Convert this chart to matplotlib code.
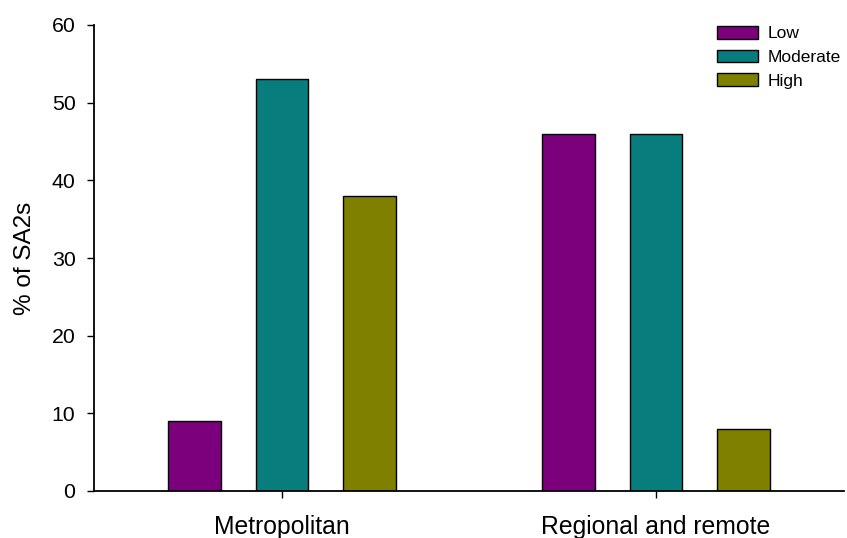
import matplotlib
matplotlib.use("Agg")
import matplotlib.pyplot as plt
import numpy as np

categories = ["Metropolitan", "Regional and remote"]
series = ["Low", "Moderate", "High"]
low = [9, 46]
moderate = [53, 46]
high = [38, 8]
colors = ["#7c007c", "#077d7d", "#7f7f00"]
yticks = [0, 10, 20, 30, 40, 50, 60]

plt.rcParams['font.family'] = ['Liberation Sans', 'DejaVu Sans']

W, H = 847, 538
fig = plt.figure(figsize=(W / 100, H / 100), dpi=100)
ax = fig.add_axes([93.5 / W, 47 / H, (844 - 93.5) / W, (491 - 25) / H])

x = np.arange(len(categories))
offset = 0.234
width = 0.141
for i, (vals, name) in enumerate(zip([low, moderate, high], series)):
    ax.bar(x + (i - 1) * offset, vals, width, color=colors[i],
           edgecolor="black", linewidth=1.0, label=name)

ax.set_xlim((93.5 - 282) / 374, (844 - 282) / 374)
ax.set_ylim(0, 60)
ax.set_yticks(yticks)
ax.set_xticks(x)
ax.set_xticklabels(categories, fontsize=17.8)
ax.tick_params(axis='y', labelsize=15.3, length=5, width=1, direction='out', pad=8)
ax.tick_params(axis='x', length=5, width=1, direction='out', pad=12)
ax.set_ylabel("% of SA2s", fontsize=17.5, labelpad=11)
for s in ["top", "right"]:
    ax.spines[s].set_visible(False)
for s in ["left", "bottom"]:
    ax.spines[s].set_linewidth(1.3)

leg = fig.legend(loc="upper left", bbox_to_anchor=(717 / W, 1 - 26 / H),
                 frameon=False, fontsize=12.5, handlelength=2.36,
                 handleheight=0.75, handletextpad=0.55, labelspacing=0.47,
                 borderpad=0, borderaxespad=0)

fig.savefig("out.png", dpi=100)
